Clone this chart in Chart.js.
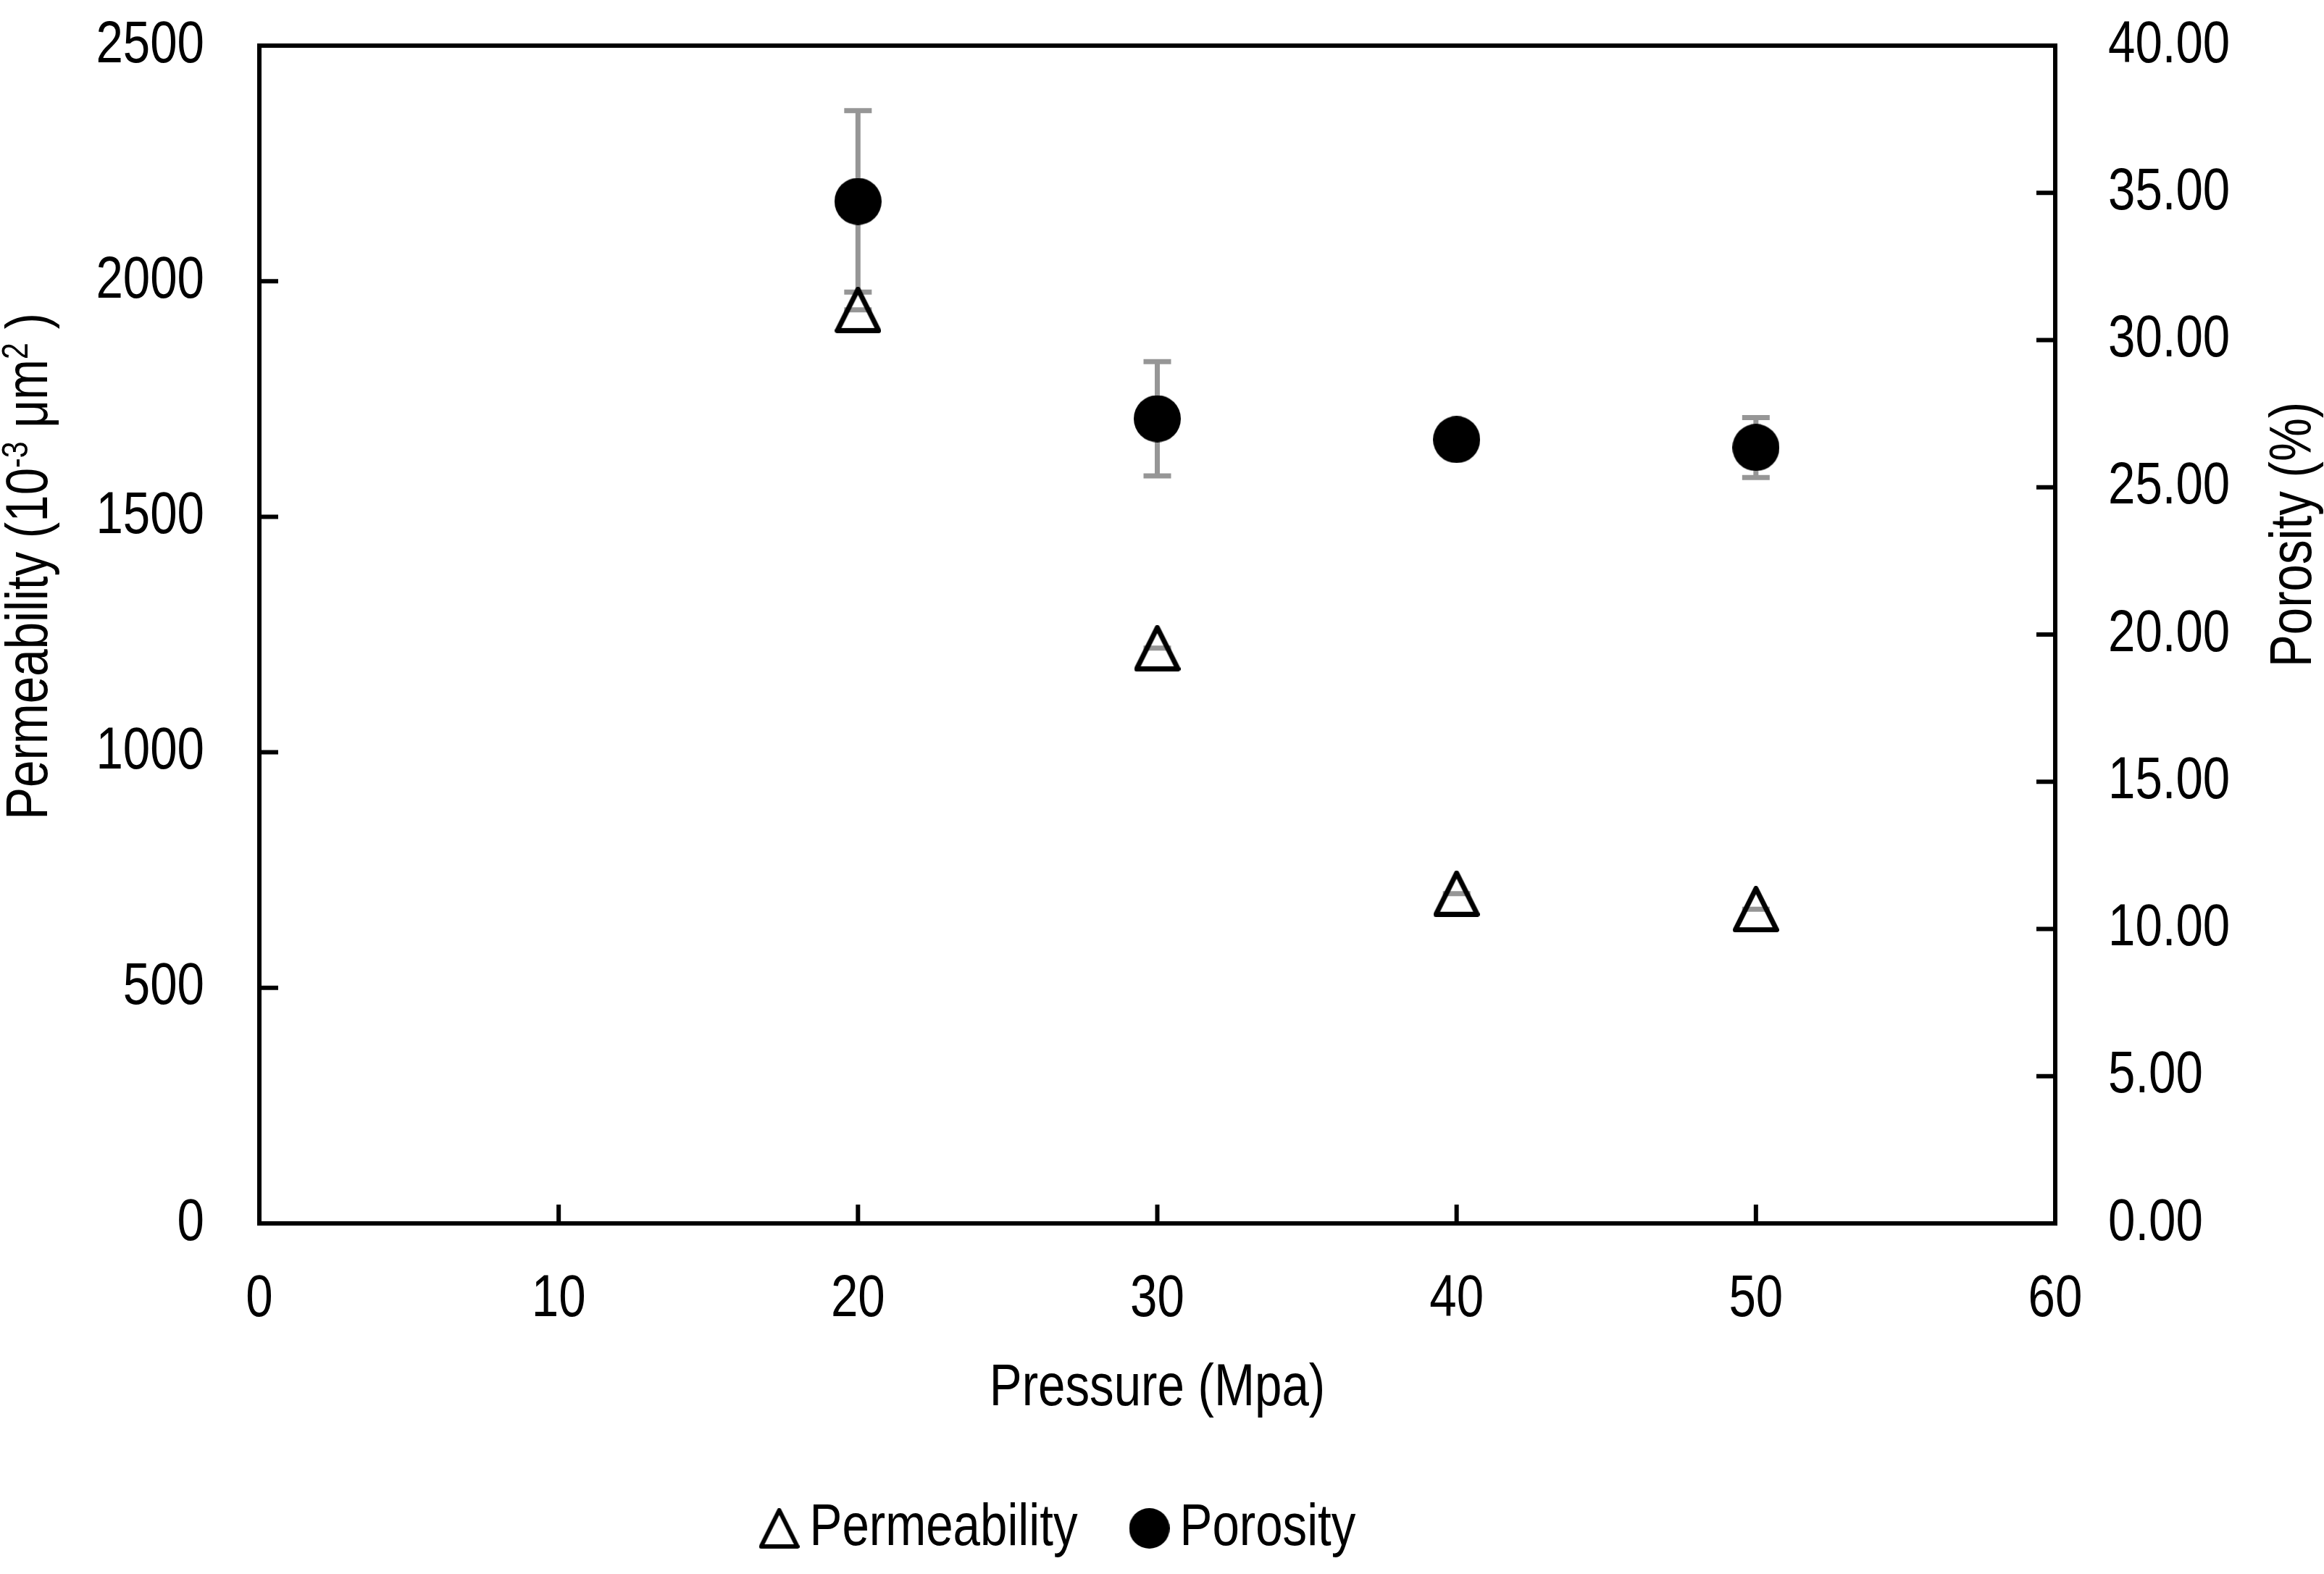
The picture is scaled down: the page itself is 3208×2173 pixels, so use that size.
<!DOCTYPE html>
<html>
<head>
<meta charset="utf-8">
<script src="https://cdn.jsdelivr.net/npm/chart.js@4.4.1/dist/chart.umd.min.js"></script>
<style>
  html, body { margin: 0; padding: 0; background: #fff; }
  #wrap { width: 3208px; height: 2173px; }
</style>
</head>
<body>
<div id="wrap"><canvas id="chart" width="3208" height="2173"></canvas></div>
<script>
// values
const pressure = [20, 30, 40, 50];
const permeability = [1939, 1221, 700, 667];
const permeabilityError = [0, 0, 0, 0];
const porosity = [34.71, 27.33, 26.62, 26.35];
const porosityError = [3.08, 1.94, 0.4, 1.02];

const seriesNames = ['Permeability', 'Porosity'];
const xTitle = 'Pressure (Mpa)';
// [text, superscript?]
const leftTitle = [['Permeability (10', false], ['-3', true], [' μm', false], ['2', true], [' )', false]];
const rightTitle = [['Porosity (%)', false]];

const FONT = "'Liberation Sans Narrow', 'Arial Narrow', 'Liberation Sans', Arial, sans-serif";
const FONT_SIZE = 82;
const NARROW = 0.82;   // no narrow face installed, so squeeze the regular one
const FRAME = 6;
const TICK_LEN = 26;
const LEGEND_SHIFT = -131;

Chart.defaults.font.family = FONT;
Chart.defaults.font.size = FONT_SIZE;
Chart.defaults.color = '#000';

const canvas = document.getElementById('chart');
const ctx = canvas.getContext('2d');
const baseFill = ctx.fillText.bind(ctx);
const baseMeasure = ctx.measureText.bind(ctx);
ctx.fillText = function(text, x, y, maxWidth) {
    ctx.save();
    ctx.translate(x, y);
    ctx.scale(NARROW, 1);
    if (maxWidth === undefined) baseFill(text, 0, 0);
    else baseFill(text, 0, 0, maxWidth / NARROW);
    ctx.restore();
};
ctx.measureText = function(text) {
    const m = baseMeasure(text);
    return {
        width: m.width * NARROW,
        actualBoundingBoxAscent: m.actualBoundingBoxAscent,
        actualBoundingBoxDescent: m.actualBoundingBoxDescent,
        actualBoundingBoxLeft: m.actualBoundingBoxLeft * NARROW,
        actualBoundingBoxRight: m.actualBoundingBoxRight * NARROW,
    };
};

function triangleMarker(size, lw) {
    const c = document.createElement('canvas');
    c.width = size; c.height = size;
    const g = c.getContext('2d');
    const h = lw / 2;
    g.lineWidth = lw;
    g.lineJoin = 'round';
    g.strokeStyle = '#000';
    g.beginPath();
    g.moveTo(size / 2, h);
    g.lineTo(size - h, size - h);
    g.lineTo(h, size - h);
    g.closePath();
    g.stroke();
    return c;
}

function dotMarker(size) {
    const c = document.createElement('canvas');
    c.width = size; c.height = size;
    const g = c.getContext('2d');
    g.fillStyle = '#000';
    g.beginPath();
    g.arc(size / 2, size / 2, size / 2, 0, Math.PI * 2);
    g.fill();
    return c;
}

const plotMarkers = [triangleMarker(64, 7), dotMarker(65)];
const legendMarkers = [triangleMarker(56, 6), dotMarker(56)];

const errorBars = {
    id: 'errorBars',
    beforeDatasetsDraw(chart) {
        const c = chart.ctx;
        const xs = chart.scales.x;
        const groups = [
            [chart.scales.y, permeability, permeabilityError],
            [chart.scales.y2, porosity, porosityError],
        ];
        c.save();
        c.strokeStyle = '#969696';
        c.lineWidth = 7;
        groups.forEach(([scale, vals, errs]) => {
            vals.forEach((v, i) => {
                const px = xs.getPixelForValue(pressure[i]);
                const top = scale.getPixelForValue(v + errs[i]);
                const bot = scale.getPixelForValue(v - errs[i]);
                c.beginPath();
                c.moveTo(px, top); c.lineTo(px, bot);
                c.moveTo(px - 19, top); c.lineTo(px + 19, top);
                c.moveTo(px - 19, bot); c.lineTo(px + 19, bot);
                c.stroke();
            });
        });
        c.restore();
    }
};

// box round the plot with the small ticks pointing inwards
const frame = {
    id: 'frame',
    afterDatasetsDraw(chart) {
        const {ctx: c, chartArea: a, scales} = chart;
        c.save();
        c.strokeStyle = '#000';
        c.lineWidth = FRAME;
        c.beginPath();
        scales.x.ticks.forEach(t => {
            const px = scales.x.getPixelForValue(t.value);
            c.moveTo(px, a.bottom); c.lineTo(px, a.bottom - TICK_LEN);
        });
        scales.y.ticks.forEach(t => {
            const py = scales.y.getPixelForValue(t.value);
            c.moveTo(a.left, py); c.lineTo(a.left + TICK_LEN, py);
        });
        scales.y2.ticks.forEach(t => {
            const py = scales.y2.getPixelForValue(t.value);
            c.moveTo(a.right, py); c.lineTo(a.right - TICK_LEN, py);
        });
        c.stroke();
        c.strokeRect(a.left, a.top, a.right - a.left, a.bottom - a.top);
        c.restore();
    }
};

function drawVerticalTitle(c, cx, cy, pieces) {
    const big = FONT_SIZE + 'px ' + FONT;
    const small = '50px ' + FONT;
    c.save();
    c.translate(cx, cy);
    c.rotate(-Math.PI / 2);
    c.textBaseline = 'middle';
    c.textAlign = 'left';
    c.fillStyle = '#000';
    let total = 0;
    pieces.forEach(([t, sup]) => { c.font = sup ? small : big; total += c.measureText(t).width; });
    let x = -total / 2;
    pieces.forEach(([t, sup]) => {
        c.font = sup ? small : big;
        c.fillText(t, x, sup ? -18 : 0);
        x += c.measureText(t).width;
    });
    c.restore();
}

const axisTitles = {
    id: 'axisTitles',
    afterDraw(chart) {
        drawVerticalTitle(chart.ctx, 42, 782, leftTitle);
        drawVerticalTitle(chart.ctx, 3167, 738, rightTitle);
    }
};

const legendShift = {
    id: 'legendShift',
    afterLayout(chart) {
        chart.legend.left += LEGEND_SHIFT;
        chart.legend.right += LEGEND_SHIFT;
    }
};

// the gap between axis and labels goes in tickLength (not drawn), so it does not push the plot top down
const hiddenTicks = gap => ({ display: false, drawTicks: true, tickLength: gap });

const chart = new Chart(canvas, {
    type: 'scatter',
    data: {
        datasets: [
            {
                label: seriesNames[0],
                data: pressure.map((p, i) => ({ x: p, y: permeability[i] })),
                yAxisID: 'y',
                pointStyle: plotMarkers[0],
                pointRadius: 32,
                backgroundColor: 'rgba(0,0,0,0)',
                borderColor: '#000',
            },
            {
                label: seriesNames[1],
                data: pressure.map((p, i) => ({ x: p, y: porosity[i] })),
                yAxisID: 'y2',
                pointStyle: plotMarkers[1],
                pointRadius: 32,
                backgroundColor: '#000',
                borderColor: '#000',
            },
        ]
    },
    options: {
        responsive: false,
        animation: false,
        devicePixelRatio: 1,
        layout: { padding: { top: 63, bottom: 12, left: 0, right: 0 } },
        plugins: {
            tooltip: { enabled: false },
            legend: {
                position: 'bottom',
                labels: {
                    usePointStyle: true,
                    boxWidth: 2,
                    padding: 98,
                    color: '#000',
                    font: { size: FONT_SIZE },
                    generateLabels(c) {
                        const items = Chart.defaults.plugins.legend.labels.generateLabels(c);
                        items.forEach((it, i) => { it.pointStyle = legendMarkers[i]; });
                        return items;
                    }
                }
            }
        },
        scales: {
            x: {
                type: 'linear',
                min: 0, max: 60,
                ticks: { stepSize: 10, padding: 0, callback: v => String(v) },
                grid: hiddenTicks(56),
                border: { display: false },
                title: { display: true, text: xTitle, font: { size: FONT_SIZE, lineHeight: 1 }, padding: { top: 0, bottom: 13 } },
                afterFit(s) { s.height = 282; }
            },
            y: {
                position: 'left',
                min: 0, max: 2500,
                ticks: { stepSize: 500, padding: 0, callback: v => String(v) },
                grid: hiddenTicks(76),
                border: { display: false },
                afterFit(s) { s.width = 358; }
            },
            y2: {
                position: 'right',
                min: 0, max: 40,
                ticks: { stepSize: 5, padding: 0, callback: v => v.toFixed(2) },
                grid: hiddenTicks(73),
                border: { display: false },
                afterFit(s) { s.width = 371; }
            }
        }
    },
    plugins: [errorBars, frame, axisTitles, legendShift]
});
</script>
</body>
</html>
